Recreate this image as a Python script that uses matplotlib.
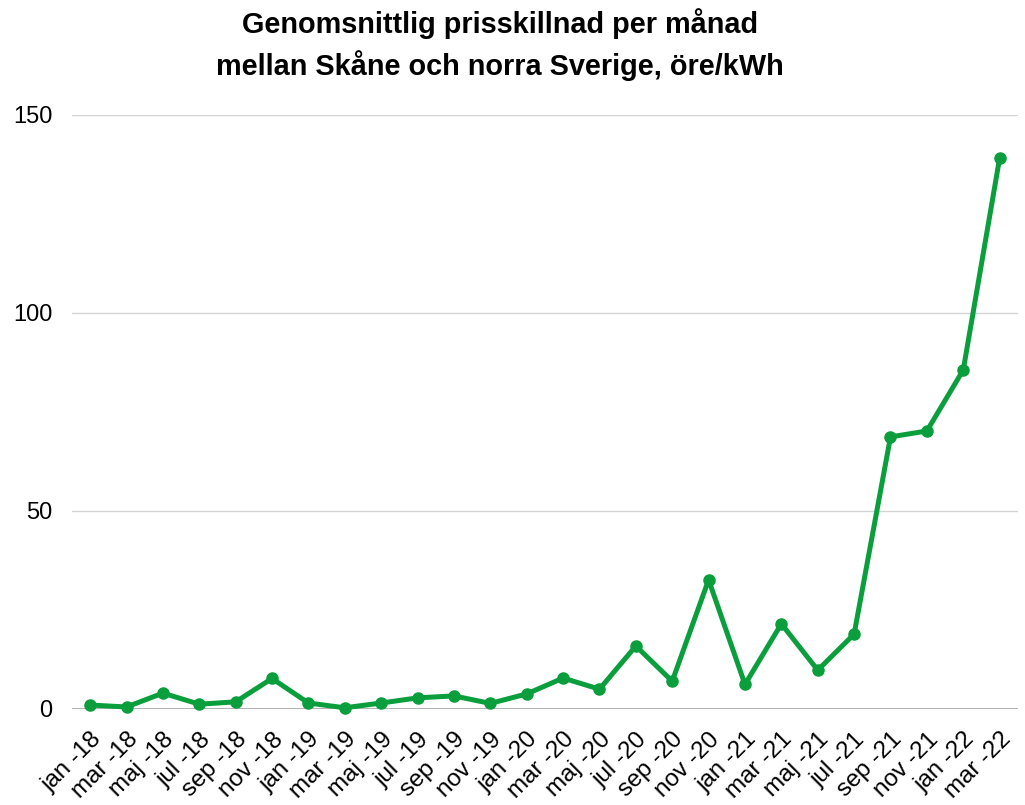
import matplotlib
matplotlib.use("Agg")
import matplotlib.pyplot as plt

months = ["jan", "mar", "maj", "jul", "sep", "nov"]
years = ["18", "19", "20", "21", "22"]
labels = [f"{m} -{y}" for y in years for m in months][:26]
values = [1.0, 0.5, 4.0, 1.2, 1.8, 7.7, 1.5, 0.3, 1.5, 2.8, 3.3, 1.4,
          3.8, 7.8, 5.0, 15.9, 7.0, 32.6, 6.2, 21.5, 9.8, 18.9,
          68.7, 70.2, 85.6, 139.1]
yticks = [0, 50, 100, 150]
title = "Genomsnittlig prisskillnad per månad\nmellan Skåne och norra Sverige, öre/kWh"

plt.rcParams['font.family'] = ['Liberation Sans', 'DejaVu Sans']
fig = plt.figure(figsize=(10.25, 8.05), dpi=100)
ax = fig.add_axes([0.0702, 0.1193, 0.993 - 0.0702, 0.7379])
x = list(range(len(values)))
green = "#0a9e3c"
ax.plot(x, values, color=green, lw=3.6, marker="o", ms=8, clip_on=False, zorder=3,
        solid_joinstyle="round")
ax.set_xlim(-0.5, 25.5)
ax.set_ylim(0, 150)
ax.set_yticks(yticks)
ax.set_yticklabels([str(t) for t in yticks], fontsize=17)
for t in yticks[1:]:
    ax.axhline(t, color="#d4d4d4", lw=1.0, zorder=1)
ax.axhline(0, color="#aaaaaa", lw=2.0, zorder=2)
ax.set_xticks(x)
ax.set_xticklabels(labels, rotation=45, ha="right", rotation_mode="anchor", fontsize=17.5)
for s in ax.spines.values():
    s.set_visible(False)
ax.tick_params(axis="both", length=0)
ax.tick_params(axis="y", pad=14)
ax.tick_params(axis="x", pad=14)
fig.text(0.488, 0.99, title, ha="center", va="top", fontsize=20.8, fontweight="bold",
         linespacing=1.45)
fig.savefig("out.png", dpi=100)
